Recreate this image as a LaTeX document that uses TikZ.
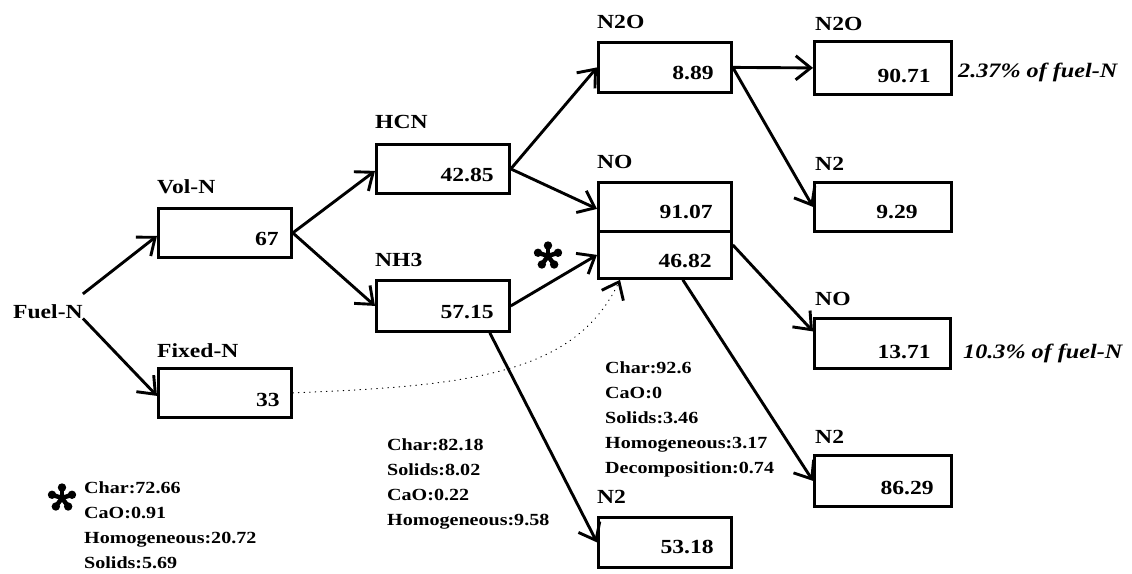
\documentclass[tikz,border=0pt]{standalone}
\usepackage{fontspec}
\setmainfont{Liberation Serif}[FakeStretch=1.18]
\usetikzlibrary{arrows.meta}
\begin{document}
\begin{tikzpicture}[x=1pt,y=-1pt,
  box/.style={draw, line width=2.8pt, inner sep=0pt, anchor=north west, minimum width=133pt, minimum height=49pt},
  lab/.style={font=\bfseries\fontsize{20}{24}\selectfont, inner sep=0pt, anchor=base west},
  num/.style={font=\bfseries\fontsize{20}{24}\selectfont, inner sep=0pt, anchor=base east},
  sm/.style={font=\bfseries\fontsize{17}{25}\selectfont, inner sep=0pt, anchor=north west, align=left},
  note/.style={font=\bfseries\itshape\fontsize{20.5}{24}\selectfont, inner sep=0pt, anchor=base west},
  petal/.style={line width=4.5pt},
  arr/.style={line width=2.9pt, -{Straight Barb[length=15pt,width=24pt,line width=2.9pt]}},
  dots/.style={line width=1pt, line cap=round, dash pattern=on 0.6pt off 5pt, -{Straight Barb[length=15pt,width=24pt,line width=2.9pt]}}]
\useasboundingbox (0,0) rectangle (1132,573);

% boxes
\node[box] (vol) at (157,207) {};
\node[box] (fixed) at (157,367) {};
\node[box] (hcn) at (375,143) {};
\node[box, minimum height=51pt] (nh3) at (375,279) {};
\node[box, minimum height=50pt] (n2oa) at (597,41) {};
\node[box] (noa) at (597,181) {};
\node[box, minimum height=47pt] (nob) at (597,230) {};
\node[box, minimum width=137pt, minimum height=53pt] (n2ob) at (813,40) {};
\node[box, minimum width=137pt] (n2a) at (813,181) {};
\node[box, minimum width=136pt, minimum height=50pt] (noc) at (813,317) {};
\node[box, minimum width=137pt, minimum height=51pt] (n2b) at (813,454) {};
\node[box, minimum height=50pt] (n2c) at (597,516) {};

% values
\node[num] (volv) at ([xshift=-14pt,yshift=-13pt]vol.east) {67};
\node[num] (fixedv) at ([xshift=-13pt,yshift=-14pt]fixed.east) {33};
\node[num] (hcnv) at ([xshift=-17pt,yshift=-12.5pt]hcn.east) {42.85};
\node[num] (nh3v) at ([xshift=-17pt,yshift=-13pt]nh3.east) {57.15};
\node[num] (n2oav) at ([xshift=-19pt,yshift=-12pt]n2oa.east) {8.89};
\node[num] (noav) at ([xshift=-20pt,yshift=-12pt]noa.east) {91.07};
\node[num] (nobv) at ([xshift=-21pt,yshift=-13pt]nob.east) {46.82};
\node[num] (n2obv) at ([xshift=-22pt,yshift=-15pt]n2ob.east) {90.71};
\node[num] (n2av) at ([xshift=-35pt,yshift=-12pt]n2a.east) {9.29};
\node[num] (nocv) at ([xshift=-21pt,yshift=-15pt]noc.east) {13.71};
\node[num] (n2bv) at ([xshift=-19pt,yshift=-14pt]n2b.east) {86.29};
\node[num] (n2cv) at ([xshift=-19pt,yshift=-11pt]n2c.east) {53.18};

% labels
\node[lab] (fuel) at (13,318) {Fuel-N};
\node[lab] (voll) at (157,193) {Vol-N};
\node[lab] (fixedl) at (157,357) {Fixed-N};
\node[lab] (hcnl) at (375,128) {HCN};
\node[lab] (nh3l) at (375,266) {NH3};
\node[lab] (n2oal) at (597,28) {N2O};
\node[lab] (noal) at (597,168) {NO};
\node[lab] (n2obl) at (815,30) {N2O};
\node[lab] (n2al) at (815,170) {N2};
\node[lab] (nocl) at (815,305) {NO};
\node[lab] (n2bl) at (815,443) {N2};
\node[lab] (n2cl) at (597,503) {N2};

% notes
\node[note] (note1) at (958,77) {2.37\% of fuel-N};
\node[note] (note2) at (963,358) {10.3\% of fuel-N};

% stars (five-petal asterisks)
\coordinate (star1) at (548,256);
\coordinate (star2) at (62,498);
\foreach \s in {star1,star2}{
  \foreach \a in {270,342,54,126,198}{
    \draw[petal] (\s) -- ++(\a:10.5);
    \fill (\s) ++(\a:10.5) circle (4.2pt);
  }
}

% text blocks
\node[sm] (blockA) at (84,481) {Char:72.66\\CaO:0.91\\Homogeneous:20.72\\Solids:5.69};
\node[sm] (blockB) at (387,438) {Char:82.18\\Solids:8.02\\CaO:0.22\\Homogeneous:9.58};
\node[sm] (blockC) at (605,361) {Char:92.6\\CaO:0\\Solids:3.46\\Homogeneous:3.17\\Decomposition:0.74};

% connectors
\draw[arr] ([yshift=10pt]fuel.north east) -- ([yshift=-3pt]vol.west);
\draw[arr] (fuel.south east) -- ([yshift=-3pt]fixed.west);
\draw[arr] (vol.east) -- ([yshift=-2pt]hcn.west);
\draw[arr] (vol.east) -- (nh3.west);
\draw[arr] (hcn.east) -- (n2oa.west);
\draw[arr] (hcn.east) -- ([yshift=-2pt]noa.west);
\draw[arr] (nh3.east) -- (nob.west);
\draw[arr] ([xshift=-21pt]nh3.south east) -- (n2c.west);
\draw[arr] (n2oa.east) -- (n2ob.west);
\draw[arr] (n2oa.east) -- (n2a.west);
\draw[arr] ([yshift=10pt]nob.east) -- ([yshift=12pt]noc.west);
\draw[arr] ([xshift=-50pt]nob.south east) -- (n2b.west);
\draw[dots] (fixed.east) .. controls (470,386) and (575,374) .. ([xshift=23pt]nob.south west);
\end{tikzpicture}
\end{document}
